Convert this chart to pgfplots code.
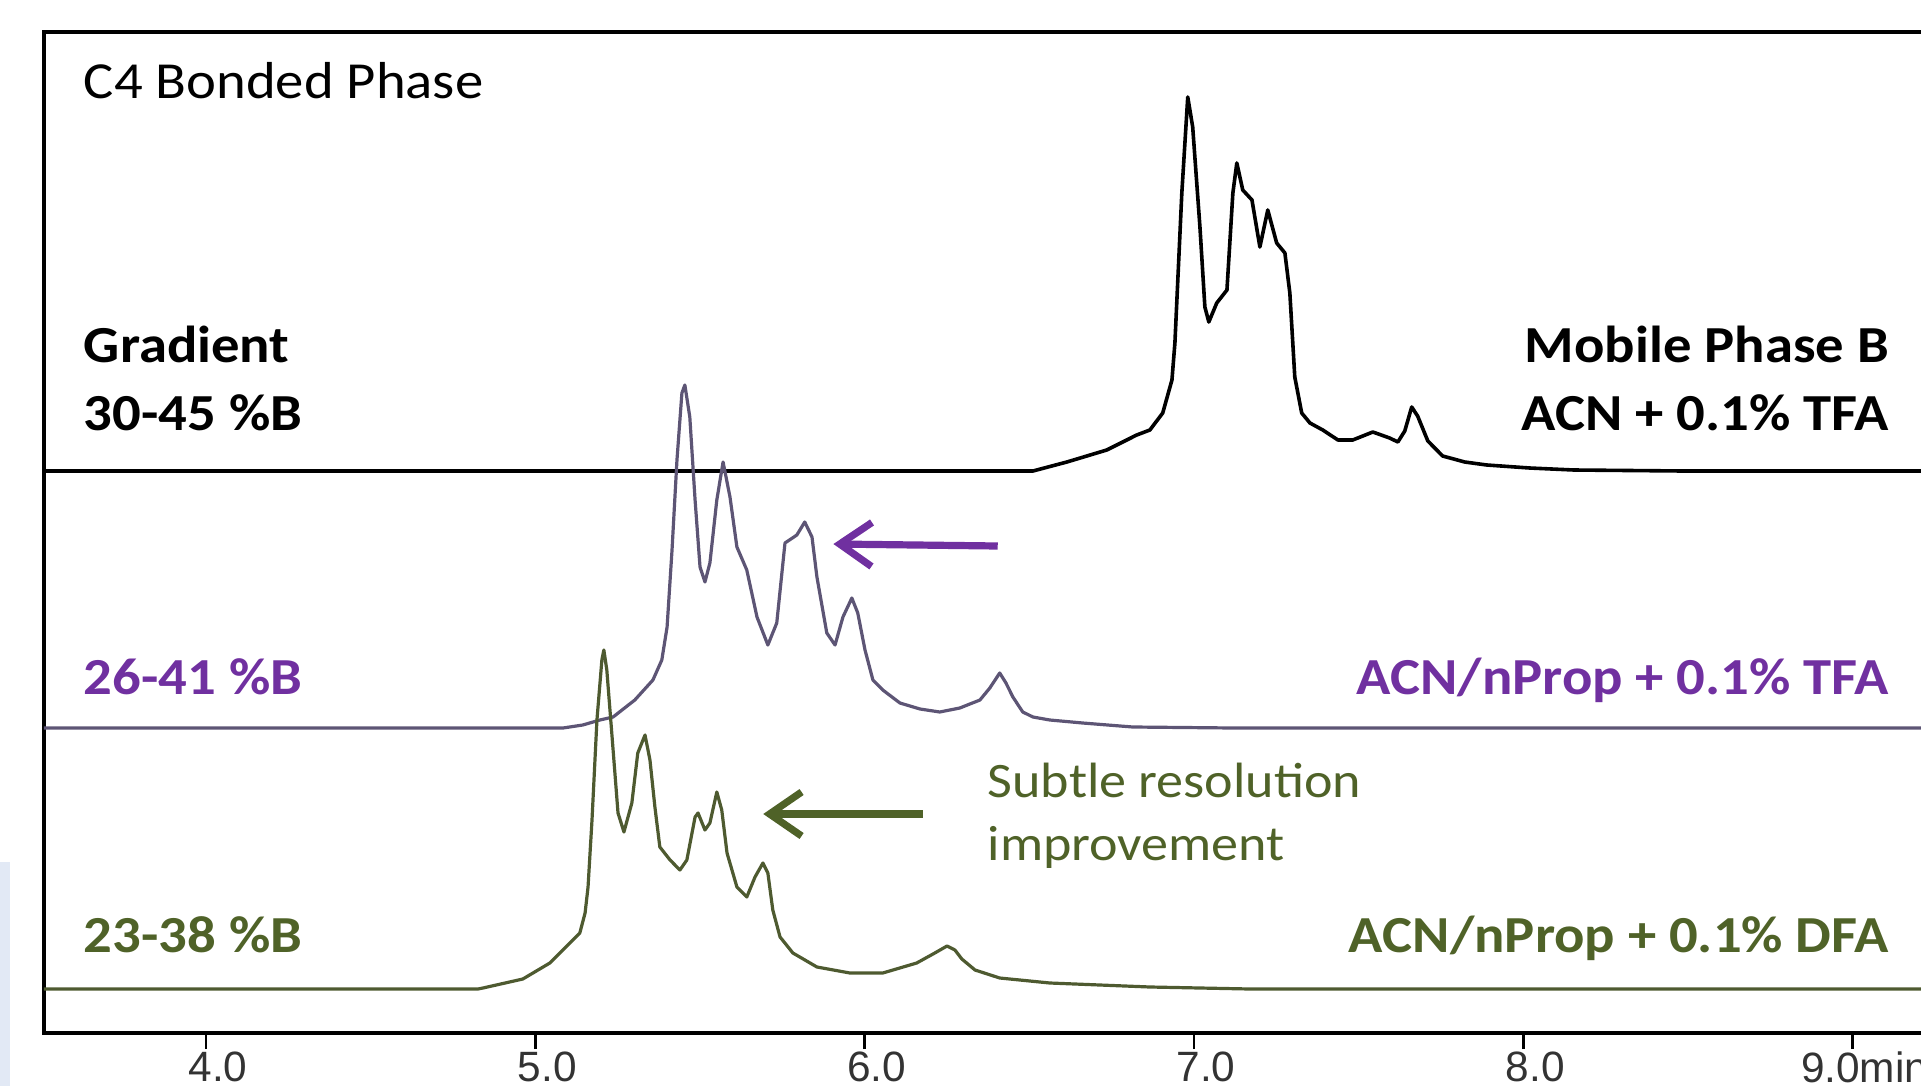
\documentclass[border=0pt]{standalone}
\usepackage{pgfplots}
\usepackage{pgfplotstable}
\pgfplotsset{compat=1.18}
\usetikzlibrary{arrows.meta}
\usepackage{fontspec}
\setmainfont{Carlito}[FakeStretch=1.09]
\newfontfamily\tickfont{Liberation Sans}

\definecolor{purptxt}{HTML}{7030A0}
\definecolor{purpline}{HTML}{5D5575}
\definecolor{olivetxt}{HTML}{4F6228}
\definecolor{oliveline}{HTML}{4E5A30}

% retention time (min) vs. detector signal above each trace's own baseline
\pgfplotstableread{
t s
3.508 0
6.410 0
6.511 0
6.614 9
6.735 21
6.826 36
6.866 41
6.905 58
6.933 91
6.942 128
6.963 278
6.981 374
6.996 344
7.018 244
7.033 164
7.045 149
7.069 168
7.100 181
7.118 278
7.130 308
7.148 281
7.176 271
7.200 224
7.224 261
7.251 228
7.276 218
7.291 178
7.306 94
7.327 58
7.352 48
7.391 41
7.437 31
7.482 31
7.543 39
7.594 33
7.619 29
7.640 40
7.661 64
7.679 55
7.710 30
7.755 15
7.822 9
7.889 6
8.019 3
8.153 1
8.484 0
9.250 0
}\tfa

\pgfplotstableread{
t s
3.508 0
5.084 0
5.144 3
5.196 8
5.236 11
5.302 28
5.357 48
5.384 68
5.400 101
5.415 178
5.430 268
5.445 335
5.454 343
5.469 311
5.485 228
5.500 161
5.515 146
5.530 165
5.551 228
5.570 266
5.591 231
5.612 181
5.642 158
5.673 111
5.706 83
5.733 105
5.758 185
5.794 193
5.818 206
5.840 191
5.855 151
5.885 95
5.910 83
5.934 111
5.961 130
5.979 115
6.001 78
6.025 48
6.055 38
6.107 25
6.168 19
6.228 16
6.289 20
6.350 28
6.380 40
6.410 55
6.429 45
6.450 31
6.480 16
6.511 11
6.562 8
6.662 5
6.814 1
7.118 0
9.250 0
}\nproptfa

\pgfplotstableread{
t s
3.508 0
4.826 0
4.841 1
4.962 10
5.044 26
5.135 56
5.151 76
5.160 102
5.172 169
5.187 269
5.202 329
5.208 339
5.217 319
5.233 252
5.251 176
5.269 157
5.293 186
5.311 236
5.333 254
5.348 229
5.363 182
5.378 142
5.409 129
5.439 119
5.460 129
5.485 172
5.494 176
5.515 159
5.530 166
5.551 197
5.566 179
5.582 136
5.612 102
5.642 92
5.667 112
5.691 126
5.706 116
5.721 79
5.743 52
5.782 36
5.855 22
5.955 16
6.055 16
6.158 26
6.213 36
6.250 43
6.274 39
6.295 30
6.335 19
6.410 11
6.562 6
6.866 2
7.169 0
9.250 0
}\npropdfa

\begin{document}
\begin{tikzpicture}
\fill[color={rgb,255:red,226;green,233;blue,245}] (0,0) rectangle (2.5pt,56pt);
\begin{axis}[
  scale only axis,
  width=472.75pt, height=250.25pt,
  at={(11pt,13.25pt)}, anchor=south west,
  xmin=3.508, xmax=9.25,
  ymin=0, ymax=1001,
  axis line style={line width=1pt},
  xtick={4,5,6,7,8,9},
  xticklabels={4.0,5.0,6.0,7.0,8.0,9.0min},
  xtick pos=lower,
  ytick=\empty,
  tick align=outside,
  major tick length=4pt,
  xtick style={line width=0.6pt, black},
  x tick label style={font=\tickfont\fontsize{10.6}{12}\selectfont, text=black!80, xshift=3pt, inner sep=0pt, yshift=-0.5pt},
]
\addplot[black, line width=0.9pt, line join=round] table[x=t, y expr=\thisrow{s}+562] {\tfa};
\addplot[purpline, line width=0.8pt, line join=round] table[x=t, y expr=\thisrow{s}+305] {\nproptfa};
\addplot[oliveline, line width=0.8pt, line join=round] table[x=t, y expr=\thisrow{s}+44] {\npropdfa};

\draw[purptxt, line width=1.8pt, -{Straight Barb[length=8pt, width=11pt]}] (6.404,487) -- (5.905,489);
\draw[olivetxt, line width=1.8pt, -{Straight Barb[length=8pt, width=11pt]}] (6.177,219) -- (5.692,219);

\begin{scope}[every node/.style={inner sep=0pt, font=\fontsize{13}{15}\selectfont}]
\node[anchor=base west] at (3.627,935) {C4 Bonded Phase};
\node[anchor=base west, font=\fontsize{13}{15}\selectfont\bfseries] at (3.627,671) {Gradient};
\node[anchor=base west, font=\fontsize{13}{15}\selectfont\bfseries] at (3.627,603) {30-45 \%B};
\node[anchor=base east, font=\fontsize{13}{15}\selectfont\bfseries] at (9.112,671) {Mobile Phase B};
\node[anchor=base east, font=\fontsize{13}{15}\selectfont\bfseries] at (9.112,603) {ACN + 0.1\% TFA};
\node[anchor=base west, font=\fontsize{13}{15}\selectfont\bfseries, text=purptxt] at (3.627,339) {26-41 \%B};
\node[anchor=base east, font=\fontsize{13}{15}\selectfont\bfseries, text=purptxt] at (9.112,339) {ACN/nProp + 0.1\% TFA};
\node[anchor=base west, font=\fontsize{13}{15}\selectfont\bfseries, text=olivetxt] at (3.627,81) {23-38 \%B};
\node[anchor=base east, font=\fontsize{13}{15}\selectfont\bfseries, text=olivetxt] at (9.112,81) {ACN/nProp + 0.1\% DFA};
\node[anchor=base west, text=olivetxt, font=\fontsize{12.4}{14}\selectfont] at (6.371,236) {Subtle resolution};
\node[anchor=base west, text=olivetxt, font=\fontsize{12.4}{14}\selectfont] at (6.371,173) {improvement};
\end{scope}
\end{axis}
\pgfresetboundingbox
\path (0,0) rectangle (480.25pt,271.5pt);
\end{tikzpicture}
\end{document}
